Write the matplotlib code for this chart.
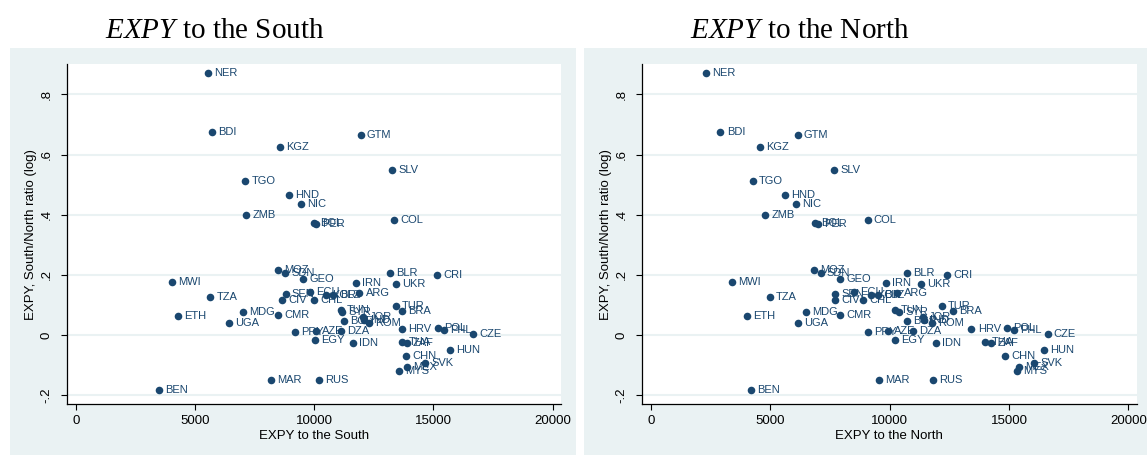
import matplotlib
matplotlib.use("Agg")
import matplotlib.pyplot as plt
from matplotlib.patches import Rectangle

plt.rcParams['font.family'] = ['Liberation Sans', 'DejaVu Sans']
plt.rcParams['mathtext.fontset'] = 'custom'
plt.rcParams['mathtext.rm'] = 'Liberation Serif'
plt.rcParams['mathtext.it'] = 'Liberation Serif:italic'

####################################################
# datos
countries = ["NER", "BDI", "KGZ", "GTM", "SLV", "TGO", "HND", "NIC", "ZMB", "BOL",
             "PER", "COL", "MOZ", "SDN", "GEO", "MWI", "IRN", "BLR", "CRI", "UKR",
             "TZA", "SEN", "CIV", "ECU", "CHL", "KOR", "BLZ", "ARG", "TUR", "BRA",
             "MDG", "CMR", "ETH", "UGA", "TUN", "SYR", "BGR", "JOR", "IND", "ROM",
             "HRV", "POL", "PHL", "CZE", "PRY", "AZE", "DZA", "EGY", "IDN", "THA",
             "ZAF", "HUN", "CHN", "SVK", "MEX", "MYS", "MAR", "RUS", "BEN"]
expy_south = [5535, 5715, 8579, 11950, 13275, 7111, 8956, 9434, 7140, 9992,
              10075, 13333, 8495, 8776, 9551, 4050, 11732, 13178, 15161, 13409,
              5644, 8797, 8662, 9824, 9992, 10507, 10809, 11899, 13409, 13681,
              7015, 8470, 4302, 6415, 11111, 11178, 11237, 12059, 12101, 12285,
              13694, 15203, 15430, 16671, 9195, 10075, 11124, 10034, 11614, 13694,
              13878, 15707, 13849, 14646, 13878, 13568, 8201, 10189, 3493]
expy_north = [2321, 2922, 4587, 6153, 7664, 4265, 5607, 6098, 4784, 6867,
              6993, 9077, 6839, 7118, 7931, 3399, 9845, 10713, 12421, 11301,
              4994, 7721, 7706, 8502, 8896, 9203, 9510, 10323, 12182, 12656,
              6504, 7915, 4028, 6168, 10210, 10390, 10743, 11397, 11440, 11792,
              13428, 14897, 15191, 16618, 9091, 9945, 10994, 10239, 11943, 13999,
              14268, 16475, 14838, 16055, 15426, 15330, 9538, 11833, 4209]
ratio_log = [0.870, 0.674, 0.626, 0.665, 0.550, 0.513, 0.466, 0.437, 0.400, 0.373,
             0.368, 0.383, 0.215, 0.205, 0.186, 0.175, 0.174, 0.206, 0.200, 0.169,
             0.127, 0.135, 0.116, 0.144, 0.116, 0.133, 0.133, 0.141, 0.096, 0.079,
             0.077, 0.068, 0.062, 0.039, 0.083, 0.075, 0.046, 0.059, 0.050, 0.039,
             0.021, 0.022, 0.017, 0.002, 0.010, 0.013, 0.013, -0.018, -0.028, -0.022,
             -0.026, -0.049, -0.070, -0.093, -0.106, -0.121, -0.151, -0.151, -0.184]
x_ticks = [0, 5000, 10000, 15000, 20000]
y_ticks = [-0.2, 0, 0.2, 0.4, 0.6, 0.8]
y_ticklabels = ["-.2", "0", ".2", ".4", ".6", ".8"]
####################################################

navy = '#1a476f'
bluegray = '#eaf2f3'
W, H = 1147, 457

fig = plt.figure(figsize=(W / 100, H / 100), dpi=100)

# fondos de los dos graficos
for x0, w in [(10, 566), (584, 563)]:
    r = Rectangle((x0 / W, 1 - 455 / H), w / W, 407 / H,
                  transform=fig.transFigure, facecolor=bluegray,
                  edgecolor='none', zorder=-10)
    fig.add_artist(r)

bottom = (H - 404.3) / H
height = (404.3 - 64) / H
ax1 = fig.add_axes([66.7 / W, bottom, (561 - 66.7) / W, height])
ax2 = fig.add_axes([641.7 / W, bottom, (1136.7 - 641.7) / W, height])

panels = [(ax1, expy_south, "EXPY to the South"),
          (ax2, expy_north, "EXPY to the North")]

for ax, xs, xlabel in panels:
    ax.set_facecolor('white')
    for yt in y_ticks:
        ax.axhline(yt, color=bluegray, lw=1.5, zorder=1)
    ax.scatter(xs, ratio_log, s=30, color=navy, zorder=3, linewidths=0)
    for c, xv, yv in zip(countries, xs, ratio_log):
        ax.annotate(c, (xv, yv), xytext=(4.5, 0), textcoords='offset points',
                    va='center', ha='left', fontsize=8, color=navy, zorder=4)
    ax.set_xlim(-377, 20348)
    ax.set_ylim(-0.2304, 0.901)
    ax.set_xticks(x_ticks)
    ax.set_xticklabels([str(t) for t in x_ticks])
    ax.set_yticks(y_ticks)
    ax.set_yticklabels(y_ticklabels, rotation=90, va='center')
    ax.tick_params(direction='out', length=4, width=0.8, labelsize=9.5,
                   colors='black')
    ax.tick_params(axis='x', pad=4)
    ax.tick_params(axis='y', pad=6)
    ax.spines['top'].set_visible(False)
    ax.spines['right'].set_visible(False)
    ax.spines['left'].set_linewidth(0.9)
    ax.spines['bottom'].set_linewidth(0.9)
    ax.set_xlabel(xlabel, fontsize=9.5, labelpad=2)
    ax.set_ylabel("EXPY, South/North ratio (log)", fontsize=9.5, labelpad=3)

# titulos
fig.text(105 / W, 1 - 31 / H, r'$\mathit{EXPY}$ to the South', fontsize=21,
         family='Liberation Serif', va='center', ha='left')
fig.text(690 / W, 1 - 31 / H, r'$\mathit{EXPY}$ to the North', fontsize=21,
         family='Liberation Serif', va='center', ha='left')

fig.savefig('out.png', dpi=100)
